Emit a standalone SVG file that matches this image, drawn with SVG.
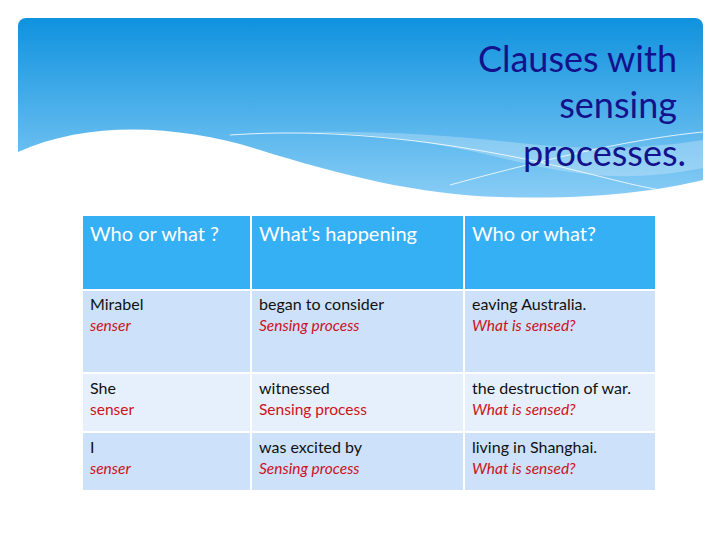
<svg xmlns="http://www.w3.org/2000/svg" width="720" height="540" viewBox="0 0 720 540">
<defs>
<linearGradient id="sky" x1="0" y1="0" x2="0" y2="1">
<stop offset="0" stop-color="#0f92de"/><stop offset="1" stop-color="#8fd0f7"/>
</linearGradient>
<style>
.h{font-family:Lato,"Liberation Sans",sans-serif;font-size:20px;fill:#fff}
.t{font-family:Lato,"Liberation Sans",sans-serif;font-size:16px;fill:#111}
.r{font-family:Lato,"Liberation Sans",sans-serif;font-size:15.5px;fill:#d0101a;font-style:italic}
.rn{font-style:normal}
.a{fill:#cde2fa}.b{fill:#e6f0fc}
</style>
</defs>
<rect width="720" height="540" fill="#fff"/>
<g id="banner">
<rect x="18" y="18" width="685" height="190" rx="8" fill="url(#sky)"/>
<path d="M18 152 C90 120 180 125 260 150 C340 175 420 195 500 197 C600 200 660 190 703 180 L703 215 L18 215 Z" fill="#fff"/>
<path d="M220 136 C330 125 430 140 510 160 C590 180 640 180 703 168 L703 140 C640 150 580 150 510 142 C420 132 320 128 220 136Z" fill="#fff" opacity="0.25"/>
<path d="M230 135 C330 128 430 140 520 158" stroke="#fff" stroke-width="0.8" fill="none"/>
<path d="M450 185 C560 155 640 138 703 132" stroke="#fff" stroke-width="0.8" fill="none"/>
<path d="M520 158 C580 170 620 183 660 190" stroke="#fff" stroke-width="0.8" fill="none"/>
<text font-family="Lato,'Liberation Sans',sans-serif" font-size="36" fill="#13128c" text-anchor="end"><tspan x="677" y="72">Clauses with</tspan><tspan x="677" y="118">sensing</tspan><tspan x="686" y="166">processes.</tspan></text>
</g>
<g id="table">
<rect x="83" y="216" width="167" height="73" fill="#35b0f5"/>
<rect x="252" y="216" width="211" height="73" fill="#35b0f5"/>
<rect x="465" y="216" width="190" height="73" fill="#35b0f5"/>
<rect class="a" x="83" y="291" width="167" height="81"/>
<rect class="a" x="252" y="291" width="211" height="81"/>
<rect class="a" x="465" y="291" width="190" height="81"/>
<rect class="b" x="83" y="374" width="167" height="57"/>
<rect class="b" x="252" y="374" width="211" height="57"/>
<rect class="b" x="465" y="374" width="190" height="57"/>
<rect class="a" x="83" y="433" width="167" height="57"/>
<rect class="a" x="252" y="433" width="211" height="57"/>
<rect class="a" x="465" y="433" width="190" height="57"/>
<text class="h" x="90" y="241">Who or what ?</text>
<text class="h" x="259" y="241">What’s happening</text>
<text class="h" x="472" y="241">Who or what?</text>
<text class="t" x="90" y="310">Mirabel</text><text class="r" x="90" y="331">senser</text>
<text class="t" x="259" y="310">began to consider</text><text class="r" x="259" y="331">Sensing process</text>
<text class="t" x="472" y="310">eaving Australia.</text><text class="r" x="472" y="331">What is sensed?</text>
<text class="t" x="90" y="394">She</text><text class="r rn" x="90" y="415">senser</text>
<text class="t" x="259" y="394">witnessed</text><text class="r rn" x="259" y="415">Sensing process</text>
<text class="t" x="472" y="394">the destruction of war.</text><text class="r" x="472" y="415">What is sensed?</text>
<text class="t" x="90" y="453">I</text><text class="r" x="90" y="474">senser</text>
<text class="t" x="259" y="453">was excited by</text><text class="r" x="259" y="474">Sensing process</text>
<text class="t" x="472" y="453">living in Shanghai.</text><text class="r" x="472" y="474">What is sensed?</text>
</g>
</svg>
